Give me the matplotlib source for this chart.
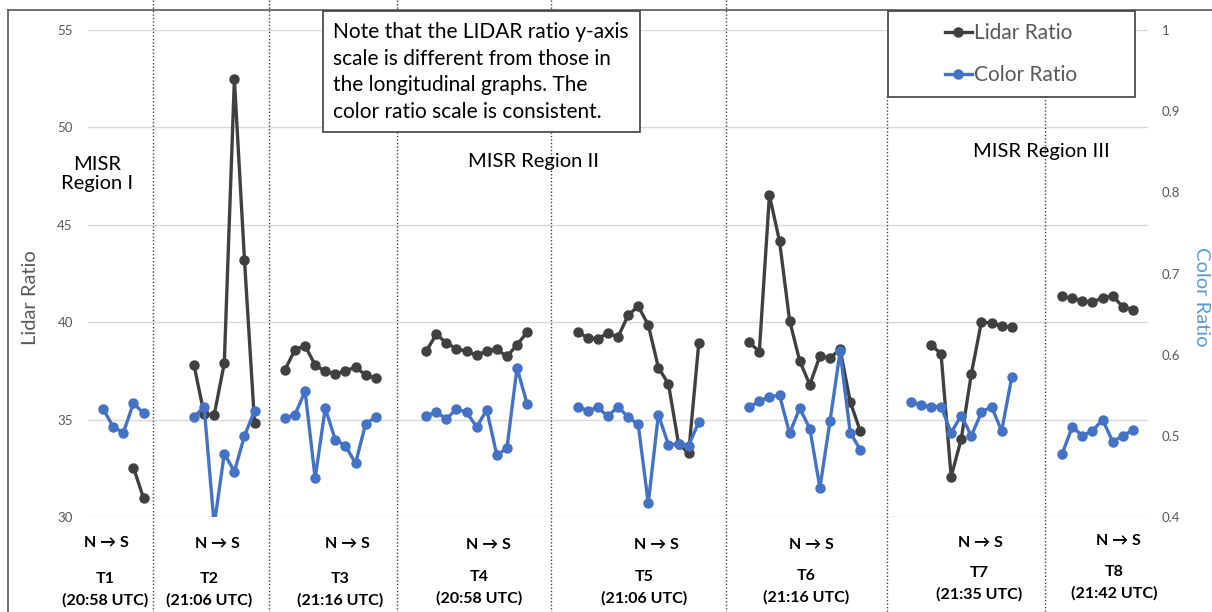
import numpy as np
import matplotlib
matplotlib.use("Agg")
from matplotlib import pyplot as plt
from matplotlib.lines import Line2D
from matplotlib.patches import Rectangle

plt.rcParams['font.family'] = ['Lato', 'DejaVu Sans']

W, H = 1212, 612
nan = np.nan

tracks = ["T1", "T2", "T3", "T4", "T5", "T6", "T7", "T8"]
times = ["20:58", "21:06", "21:16", "20:58", "21:06", "21:16", "21:35", "21:42"]

# lidar ratio (left axis)
lidar_t1 = [nan, nan, nan, 32.54, 30.97]
lidar_t2 = [37.80, 35.29, 35.24, 37.89, 52.48, 43.20, 34.81]
lidar_t3 = [37.55, 38.58, 38.80, 37.79, 37.48, 37.35, 37.50, 37.69, 37.29, 37.14]
lidar_t4 = [38.51, 39.38, 38.94, 38.63, 38.51, 38.30, 38.53, 38.60, 38.24, 38.84, 39.49]
lidar_t5 = [39.49, 39.21, 39.14, 39.45, 39.23, 40.36, 40.82, 39.86, 37.67, 36.83, 33.75, 33.29, 38.92]
lidar_t6 = [38.97, 38.49, 46.52, 44.16, 40.08, 38.01, 36.79, 38.26, 38.16, 38.62, 35.92, 34.40]
lidar_t7 = [nan, nan, 38.85, 38.37, 32.07, 34.01, 37.35, 40.02, 39.95, 39.81, 39.74]
lidar_t8 = [41.32, 41.23, 41.10, 41.03, 41.25, 41.35, 40.79, 40.65]

# color ratio (right axis)
color_t1 = [0.533, 0.511, 0.504, 0.540, 0.528]
color_t2 = [0.523, 0.536, 0.390, 0.478, 0.456, 0.500, 0.531]
color_t3 = [0.522, 0.526, 0.555, 0.448, 0.534, 0.495, 0.488, 0.466, 0.515, 0.523]
color_t4 = [0.525, 0.529, 0.521, 0.533, 0.529, 0.511, 0.532, 0.476, 0.485, 0.584, 0.539]
color_t5 = [0.536, 0.531, 0.535, 0.524, 0.536, 0.523, 0.514, 0.417, 0.526, 0.489, 0.490, 0.488, 0.517]
color_t6 = [0.535, 0.543, 0.548, 0.550, 0.503, 0.534, 0.509, 0.436, 0.518, 0.604, 0.504, 0.483]
color_t7 = [0.542, 0.538, 0.536, 0.536, 0.504, 0.525, 0.500, 0.529, 0.536, 0.506, 0.572]
color_t8 = [0.478, 0.511, 0.500, 0.506, 0.520, 0.493, 0.500, 0.507]

lidar_all = [lidar_t1, lidar_t2, lidar_t3, lidar_t4, lidar_t5, lidar_t6, lidar_t7, lidar_t8]
color_all = [color_t1, color_t2, color_t3, color_t4, color_t5, color_t6, color_t7, color_t8]

# empty categories before each track, and after the last one
gaps = [1, 4, 2, 4, 4, 4, 4, 4]
trail = 1


def build(series):
    out = []
    for g, s in zip(gaps, series):
        out += [nan] * g + list(s)
    out += [nan] * trail
    return np.array(out, float)


lidar = build(lidar_all)
color = build(color_all)
x = np.arange(len(lidar))


def fx(px):
    return px / W


def fy(py):
    return 1 - py / H


fig = plt.figure(figsize=(W / 100, H / 100), dpi=100)
ax = fig.add_axes([fx(88), fy(517), (1148 - 88) / W, (517 - 30) / H])
ax2 = ax.twinx()

l1, = ax.plot(x, lidar, color="#404040", lw=2.4, marker="o", ms=6.5, label="Lidar Ratio")
l2, = ax2.plot(x, color, color="#4472C4", lw=2.4, marker="o", ms=6.5, label="Color Ratio")

ax.set_xlim(-0.5, len(x) - 0.5)
ax.set_ylim(30, 55)
ax.set_yticks(range(30, 56, 5))
ax2.set_ylim(0.4, 1.0)
ax2.set_yticks([0.4, 0.5, 0.6, 0.7, 0.8, 0.9, 1.0])
ax2.set_yticklabels(["%g" % v for v in [0.4, 0.5, 0.6, 0.7, 0.8, 0.9, 1.0]])
ax.set_xticks([])
ax.grid(axis="y", color="#D9D9D9", lw=1)
ax.set_axisbelow(True)
for a in (ax, ax2):
    for s in a.spines.values():
        s.set_visible(False)
ax.tick_params(axis="y", length=0, pad=11, labelsize=9.5, labelcolor="#595959")
ax2.tick_params(axis="y", length=0, pad=10, labelsize=9.5, labelcolor="#595959")

fig.text(fx(30), fy(298), "Lidar Ratio", rotation=90, ha="center", va="center",
         fontsize=14.5, color="#595959")
fig.text(fx(1202), fy(297), "Color Ratio", rotation=270, ha="center", va="center",
         fontsize=14.5, color="#5B9BD5")

# chart border
fig.add_artist(Line2D([fx(8), fx(W)], [fy(10), fy(10)], transform=fig.transFigure,
                      color="#595959", lw=1.2))
fig.add_artist(Line2D([fx(8), fx(8)], [fy(10), fy(H)], transform=fig.transFigure,
                      color="#595959", lw=1.2))

# dotted separators
for px, top in [(153, 0), (269, 0), (397, 0), (551, 0), (726, 0), (887, 96), (1045, 96)]:
    fig.add_artist(Line2D([fx(px), fx(px)], [fy(top), fy(H)], transform=fig.transFigure,
                          color="#404040", lw=1, ls=(0, (1, 1.5)), zorder=3))

# note box
fig.add_artist(Rectangle((fx(323), fy(132)), (640 - 323) / W, (132 - 11) / H,
                         transform=fig.transFigure, facecolor="white",
                         edgecolor="#404040", lw=1.2, zorder=5))
fig.text(fx(333), fy(72),
         "Note that the LIDAR ratio y-axis\nscale is different from those in\n"
         "the longitudinal graphs. The\ncolor ratio scale is consistent.",
         ha="left", va="center", fontsize=15, linespacing=1.4, zorder=6)

# legend box
fig.add_artist(Rectangle((fx(888), fy(97)), (1135 - 888) / W, (97 - 11) / H,
                         transform=fig.transFigure, facecolor="white",
                         edgecolor="#404040", lw=1.2, zorder=5))
leg = fig.legend(handles=[l1, l2], loc="center", bbox_to_anchor=(fx(1011), fy(54)),
                 frameon=False, fontsize=15, labelcolor="#595959", handlelength=1.3,
                 handletextpad=0.1, labelspacing=1.05)
leg.set_zorder(7)

# region labels
fig.text(fx(97.5), fy(174), "MISR\nRegion I", ha="center", va="center",
         fontsize=14.5, linespacing=1.15)
fig.text(fx(533), fy(161), "MISR Region II", ha="center", va="center", fontsize=14.5)
fig.text(fx(1041), fy(151), "MISR Region III", ha="center", va="center", fontsize=14.5)

# track labels below the plot
ns_x = [106, 217, 347, 488, 656, 811, 980, 1118]
ns_y = [543, 544, 544, 545, 545, 545, 543, 541]
t_x = [105, 209, 340, 479, 644, 806, 979, 1114]
t_y = [579, 579, 579, 577, 577, 576, 573, 572]
for i in range(len(tracks)):
    fig.text(fx(ns_x[i]), fy(ns_y[i]), "N \u2192 S", ha="center", va="center",
             fontsize=11.5, fontweight="bold")
    fig.text(fx(t_x[i]), fy(t_y[i]), tracks[i], ha="center", va="center",
             fontsize=11.5, fontweight="bold")
    fig.text(fx(t_x[i]), fy(t_y[i] + 21), "(" + times[i] + " UTC)", ha="center",
             va="center", fontsize=11.5, fontweight="bold")

fig.savefig("out.png", dpi=100)
